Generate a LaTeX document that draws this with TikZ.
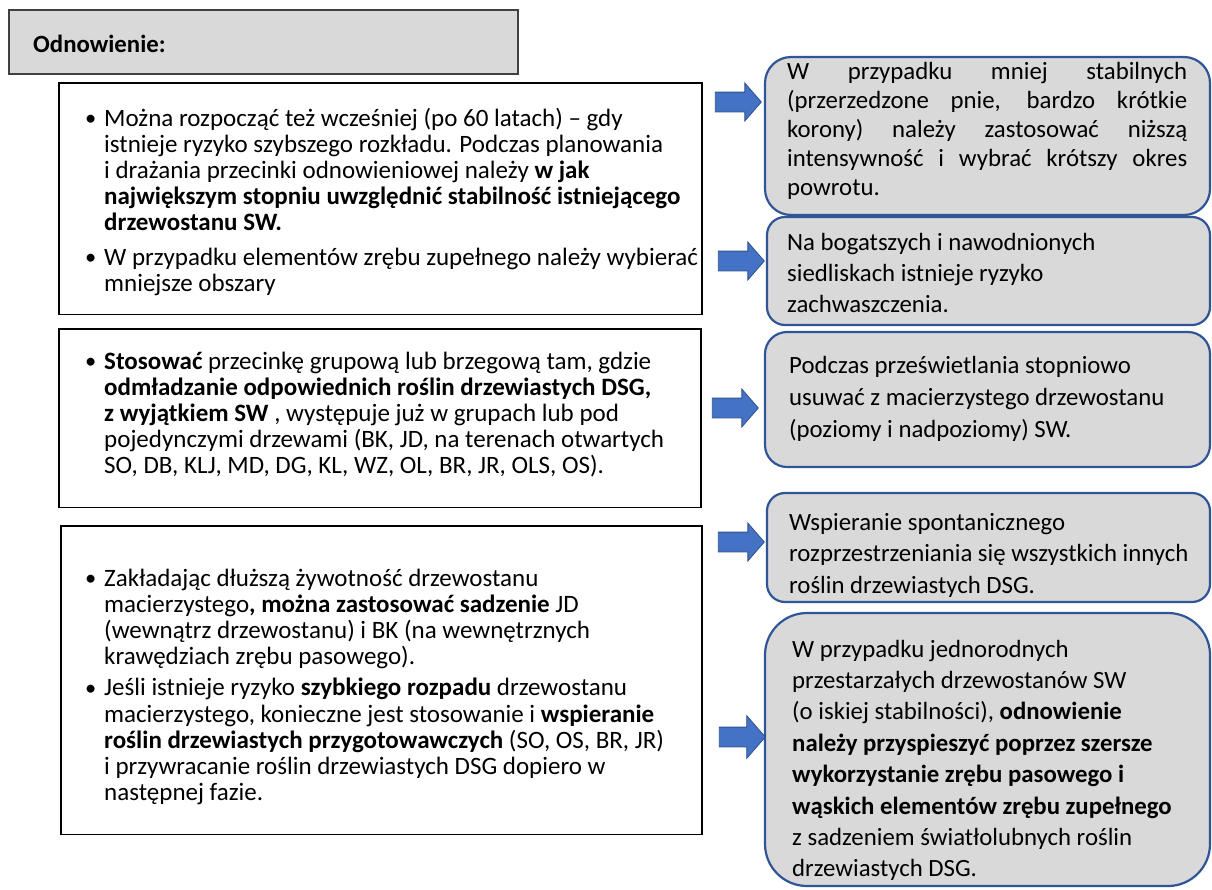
\documentclass[tikz,border=0pt]{standalone}
\usepackage{fontspec}
\setmainfont{Carlito}
\usetikzlibrary{shapes.arrows}

\definecolor{panelgray}{HTML}{D9D9D9}
\definecolor{paneledge}{HTML}{2F5597}
\definecolor{arrowfill}{HTML}{4472C4}
\definecolor{arrowedge}{HTML}{2F528F}
\definecolor{headedge}{HTML}{404040}
\definecolor{baseline}{HTML}{BFBFBF}

\newcommand{\bul}{\makebox[19pt][l]{\raisebox{0.5pt}{\scalebox{0.9}{•}}}}
\newcommand{\ind}{\hspace*{19pt}}
\newcommand{\jline}[1]{\makebox[400pt][s]{#1}}

\begin{document}
\begin{tikzpicture}[x=1pt,y=-1pt,
  area/.style={inner sep=0, outer sep=0, anchor=north west},
  heading/.style={area, draw=headedge, fill=panelgray, line width=1.5},
  leftbox/.style={area},
  rightbox/.style={area, draw=paneledge, fill=panelgray, line width=2.2},
  lefttext/.style={anchor=base west, inner sep=0, text width=700pt, align=flush left,
    font=\fontsize{25}{26.2}\selectfont},
  righttext/.style={anchor=base west, inner sep=0, text width=430pt, align=flush left,
    font=\fontsize{24.8}{31.5}\selectfont},
  blockarrow/.style={single arrow, draw=arrowedge, fill=arrowfill, line width=0.8,
    minimum height=46, inner xsep=0, inner ysep=9.5, single arrow head extend=9,
    single arrow tip angle=98}
]
\useasboundingbox (0,0) rectangle (1212,889);

% heading
\node[heading, minimum width=509, minimum height=64] (head) at (9,10) {};
\node[anchor=base west, inner sep=0, font=\fontsize{24.8}{30}\selectfont\bfseries] (headtxt) at (33,52) {Odnowienie:};

% left panels: black top and sides, thin grey bottom
\node[leftbox, minimum width=643, minimum height=231] (l1) at (59,83) {};
\node[leftbox, minimum width=642, minimum height=178] (l2) at (59,329) {};
\node[leftbox, minimum width=641, minimum height=308] (l3) at (61,526) {};
\foreach \b in {l1,l2,l3}{
  \draw[line width=2.5, line cap=rect] (\b.south west) -- (\b.north west) -- (\b.north east) -- (\b.south east);
  \draw[baseline, line width=1] (\b.south west) -- (\b.south east);
}

\node[lefttext] (t1) at (85,126) {%
\bul Można rozpocząć też wcześniej (po 60 latach) – gdy\\
\ind istnieje ryzyko szybszego rozkładu. Podczas planowania\\
\ind i drażania przecinki odnowieniowej należy \textbf{w jak}\\
\ind \textbf{największym stopniu uwzględnić stabilność istniejącego}\\
\ind \textbf{drzewostanu SW.}\\[8pt]
\bul W przypadku elementów zrębu zupełnego należy wybierać\\
\ind mniejsze obszary};

\node[lefttext] (t2) at (85,369) {%
\bul \textbf{Stosować} przecinkę grupową lub brzegową tam, gdzie\\
\ind \textbf{odmładzanie odpowiednich roślin drzewiastych DSG,}\\
\ind \textbf{z wyjątkiem SW} , występuje już w grupach lub pod\\
\ind pojedynczymi drzewami (BK, JD, na terenach otwartych\\
\ind SO, DB, KLJ, MD, DG, KL, WZ, OL, BR, JR, OLS, OS).};

\node[lefttext] (t3) at (85,586) {%
\bul Zakładając dłuższą żywotność drzewostanu\\
\ind macierzystego\textbf{, można zastosować sadzenie} JD\\
\ind (wewnątrz drzewostanu) i BK (na wewnętrznych\\
\ind krawędziach zrębu pasowego).\\[5pt]
\bul Jeśli istnieje ryzyko \textbf{szybkiego rozpadu} drzewostanu\\
\ind macierzystego, konieczne jest stosowanie i \textbf{wspieranie}\\
\ind \textbf{roślin drzewiastych przygotowawczych} (SO, OS, BR, JR)\\
\ind i przywracanie roślin drzewiastych DSG dopiero w\\
\ind następnej fazie.};

% right panels
\node[rightbox, minimum width=445, minimum height=158, rounded corners=26] (r1) at (765,57) {};
\node[rightbox, minimum width=443, minimum height=108, rounded corners=18] (r2) at (767,217) {};
\node[rightbox, minimum width=445, minimum height=135, rounded corners=22] (r3) at (765,332) {};
\node[rightbox, minimum width=443, minimum height=109, rounded corners=18] (r4) at (767,493) {};
\node[rightbox, minimum width=445, minimum height=273, rounded corners=42] (r5) at (765,613) {};

\node[righttext, font=\fontsize{24.8}{29}\selectfont] (s1) at (787,79) {%
\jline{W przypadku mniej stabilnych}\\
\jline{(przerzedzone pnie, bardzo krótkie}\\
\jline{korony) należy zastosować niższą}\\
\jline{intensywność i wybrać krótszy okres}\\
powrotu.};

\node[righttext, font=\fontsize{24.8}{31}\selectfont] (s2) at (787,250) {%
Na bogatszych i nawodnionych\\
siedliskach istnieje ryzyko\\
zachwaszczenia.};

\node[righttext, font=\fontsize{24.8}{32}\selectfont] (s3) at (789,373) {%
Podczas prześwietlania stopniowo\\
usuwać z macierzystego drzewostanu\\
(poziomy i nadpoziomy) SW.};

\node[righttext] (s4) at (789,530) {%
Wspieranie spontanicznego\\
rozprzestrzeniania się wszystkich innych\\
roślin drzewiastych DSG.};

\node[righttext, font=\fontsize{24.8}{31.4}\selectfont] (s5) at (792,657) {%
W przypadku jednorodnych\\
przestarzałych drzewostanów SW\\
(o iskiej stabilności), \textbf{odnowienie}\\
\textbf{należy przyspieszyć poprzez szersze}\\
\textbf{wykorzystanie zrębu pasowego i}\\
\textbf{wąskich elementów zrębu zupełnego}\\
z sadzeniem światłolubnych roślin\\
drzewiastych DSG.};

% block arrows from the left panels to the notes
\node[blockarrow] (a1) at (734,102) {};
\node[blockarrow] (a2) at (737,261) {};
\node[blockarrow] (a3) at (731,408) {};
\node[blockarrow] (a4) at (737,542) {};
\node[blockarrow, single arrow head extend=11.5] (a5) at (738,737) {};
\end{tikzpicture}
\end{document}
